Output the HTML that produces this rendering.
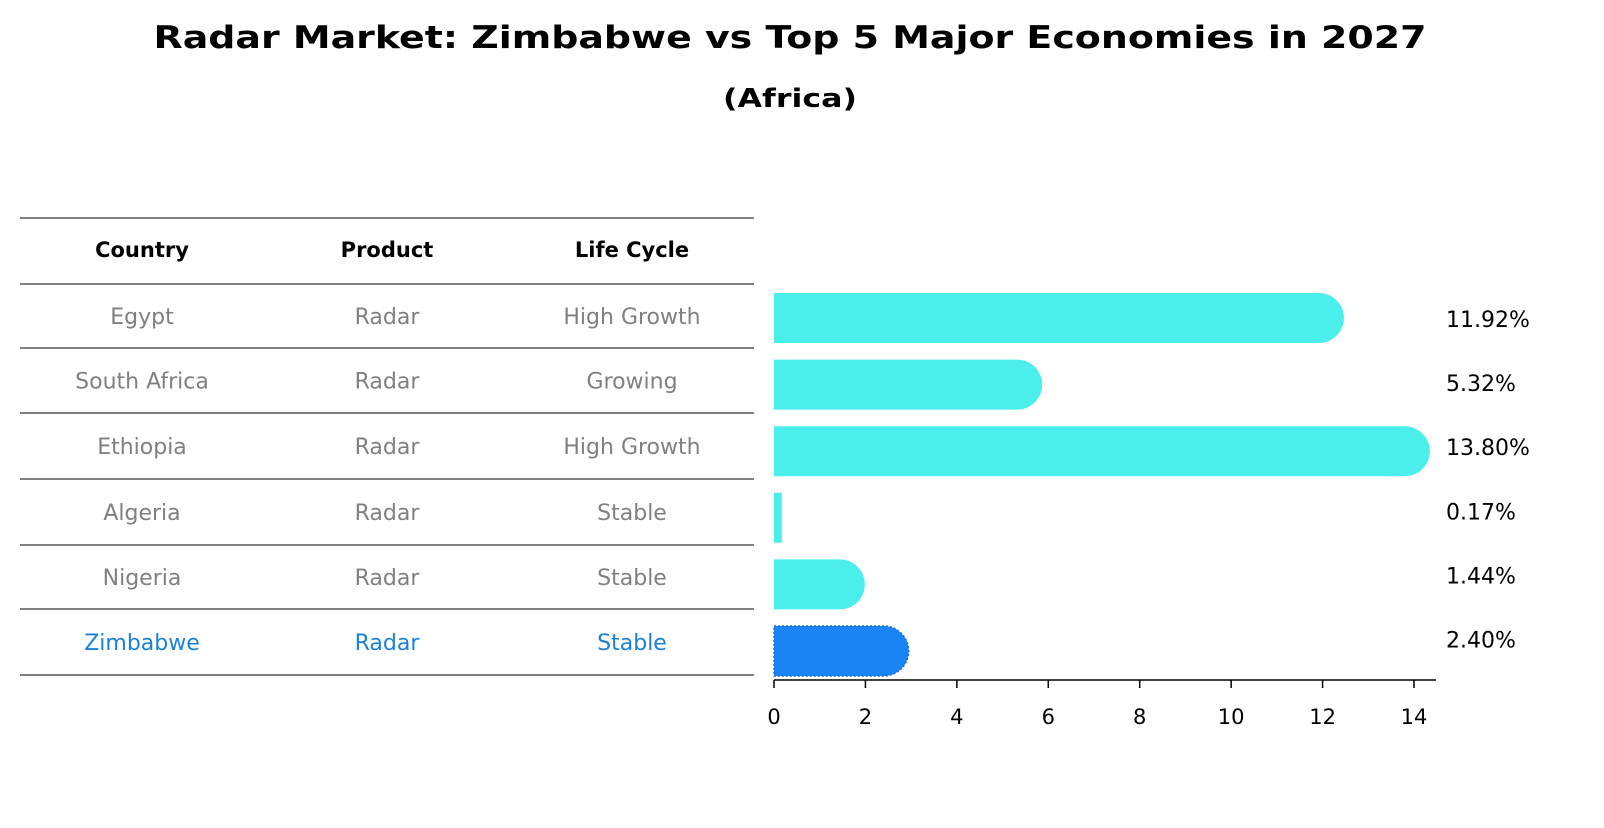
<!DOCTYPE html>
<html><head><meta charset="utf-8"><style>
body{margin:0;background:#fff;}
svg text{font-family:"DejaVu Sans","Liberation Sans",sans-serif;}
</style></head><body>
<svg id="c" width="1604" height="823" xmlns="http://www.w3.org/2000/svg">
<text x="790" y="48" text-anchor="middle" font-size="31" font-weight="bold" textLength="1273" lengthAdjust="spacingAndGlyphs">Radar Market: Zimbabwe vs Top 5 Major Economies in 2027</text>
<text x="790" y="107" text-anchor="middle" font-size="26" font-weight="bold" textLength="134" lengthAdjust="spacingAndGlyphs">(Africa)</text>
<g id="table"></g>
<g id="bars"></g>
</svg>
<script>
const countries=["Egypt","South Africa","Ethiopia","Algeria","Nigeria","Zimbabwe"];
const products=["Radar","Radar","Radar","Radar","Radar","Radar"];
const lifecycle=["High Growth","Growing","High Growth","Stable","Stable","Stable"];
const values=[11.92,5.32,13.80,0.17,1.44,2.40];
const ticks=[0,2,4,6,8,10,12,14];
const NS="http://www.w3.org/2000/svg";
function mk(t,a,p,txt){const e=document.createElementNS(NS,t);for(const k in a)e.setAttribute(k,a[k]);if(txt!=null)e.textContent=txt;p.appendChild(e);return e;}
const tb=document.getElementById('table'),bg=document.getElementById('bars');
const lines=[218,284,348,413,479,545,609,675];
lines.forEach((y,i)=>{const l=mk('line',{x1:20,x2:754,y1:y,y2:y,stroke:'#000','stroke-width':1},tb);

});
const cx=[142,387,632];
["Country","Product","Life Cycle"].forEach((h,i)=>{const t=mk('text',{x:cx[i],y:257,'text-anchor':'middle','font-size':21,'font-weight':'bold'},tb,h);

});
const x0=774,sx=(1414-774)/14;
const X=v=>x0+v*sx;
const Yr=i=>318+i*66.6;
countries.forEach((c,i)=>{
  const last=i===countries.length-1;
  const col=last?'#1a82d6':'#808080';
  const ty=(lines[i+1]+lines[i+2])/2+8;
  [c,products[i],lifecycle[i]].forEach((s,j)=>{const t=mk('text',{x:cx[j],y:ty,'text-anchor':'middle','font-size':22,fill:col},tb,s);
  
  });
  const v=values[i],yc=Yr(i),h=50,r=25,xe=X(v);
  const fill=last?'#1a84f5':'#4aeeea';
  let d;
  if(v>1){d=`M${x0},${yc-h/2} H${xe} A${r},${r} 0 0 1 ${xe},${yc+h/2} H${x0} Z`;}
  else{d=`M${x0},${yc-h/2} H${xe} V${yc+h/2} H${x0} Z`;}
  const p=mk('path',{d:d,fill:fill},bg);
  if(last){p.setAttribute('stroke','#1f6fd0');p.setAttribute('stroke-dasharray','2 2');p.setAttribute('stroke-width','1.5');}
  
  
  const lb=mk('text',{x:1446,y:yc+9-(i*2.5),'font-size':22},bg,v.toFixed(2)+'%');
  
  
});
const ax=mk('line',{x1:x0,x2:1436,y1:680,y2:680,stroke:'#000','stroke-width':1.5},bg);


ticks.forEach(t=>{const l=mk('line',{x1:X(t),x2:X(t),y1:680,y2:688,stroke:'#000','stroke-width':1.5},bg);


const tx=mk('text',{x:X(t),y:724,'text-anchor':'middle','font-size':21},bg,String(t));

});
</script>
</body></html>
